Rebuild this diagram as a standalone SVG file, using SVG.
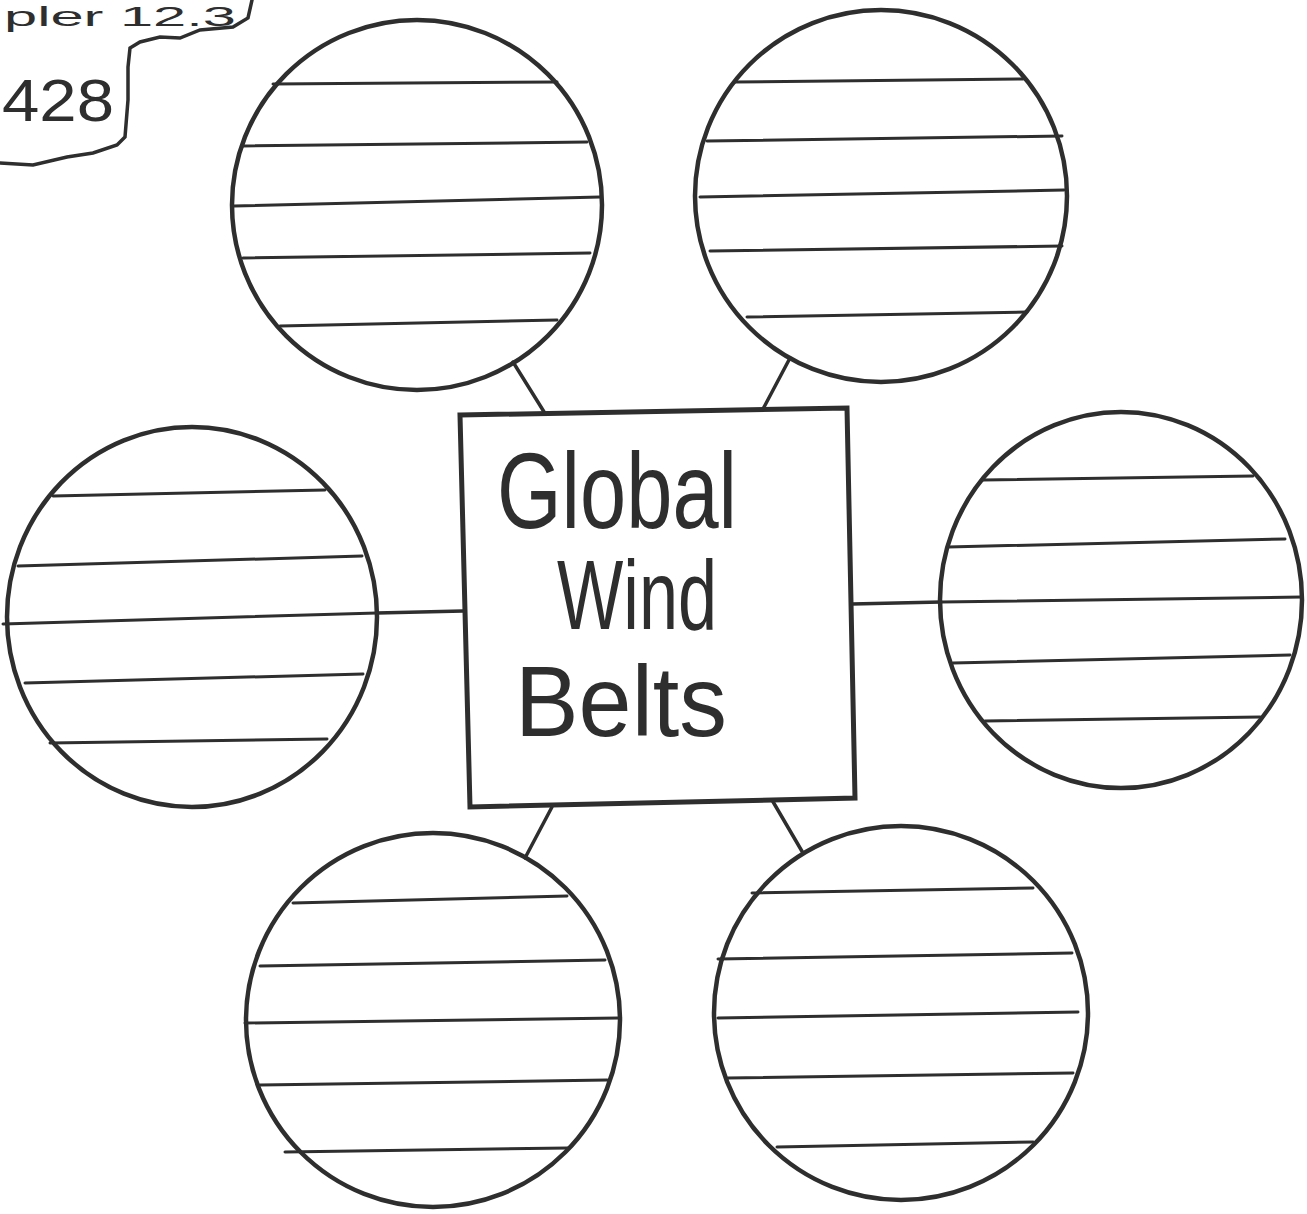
<svg xmlns="http://www.w3.org/2000/svg" width="1307" height="1214" viewBox="0 0 1307 1214">
<style>
.c{fill:none;stroke:#2e2e2e;stroke-width:4.5}
.l{fill:none;stroke:#2e2e2e;stroke-width:3;stroke-linecap:round}
.k{fill:none;stroke:#2e2e2e;stroke-width:3.5;stroke-linecap:round}
.b{fill:#fff;stroke:#2e2e2e;stroke-width:5;stroke-linejoin:miter}
.t{font-family:"Liberation Sans",Arial,sans-serif;fill:#2e2e2e}
</style>
<rect width="1307" height="1214" fill="#fff"/>
<g id="note">
<path class="k" d="M0,163 L33,165 L67,157 L93,153 L117,145 L125,137 L128,100 L128,67 L130,48 L140,42 L160,37 L180,38 L200,30 L233,27 L248,18 L252,0"/>
<text class="t" x="4" y="26" font-size="28" textLength="232" lengthAdjust="spacingAndGlyphs">pler 12.3</text>
<text class="t" x="2" y="121" font-size="60" textLength="112" lengthAdjust="spacingAndGlyphs">428</text>
</g>
<g id="connectors">
<line class="k" x1="513" y1="362" x2="546" y2="415"/>
<line class="k" x1="790" y1="358" x2="763" y2="409"/>
<line class="k" x1="377" y1="613" x2="463" y2="611"/>
<line class="k" x1="852" y1="604" x2="941" y2="602"/>
<line class="k" x1="552" y1="807" x2="525" y2="858"/>
<line class="k" x1="772" y1="800" x2="803" y2="853"/>
</g>
<g id="center">
<polygon class="b" points="460,415 847,408 855,798 470,807"/>
<text class="t" x="497" y="528" font-size="108" textLength="240" lengthAdjust="spacingAndGlyphs">Global</text>
<text class="t" x="557" y="629" font-size="98" textLength="160" lengthAdjust="spacingAndGlyphs">Wind</text>
<text class="t" x="515" y="736" font-size="100" textLength="212" lengthAdjust="spacingAndGlyphs">Belts</text>
</g>
<g id="circle-top-left">
<circle class="c" cx="417" cy="205" r="185"/>
<line class="l" x1="273" y1="84" x2="557" y2="82"/>
<line class="l" x1="242" y1="146" x2="587" y2="142"/>
<line class="l" x1="234" y1="206" x2="600" y2="197"/>
<line class="l" x1="243" y1="258" x2="590" y2="253"/>
<line class="l" x1="280" y1="326" x2="557" y2="320"/>
</g>
<g id="circle-top-right">
<circle class="c" cx="881" cy="196" r="186"/>
<line class="l" x1="735" y1="82" x2="1023" y2="79"/>
<line class="l" x1="707" y1="141" x2="1062" y2="136"/>
<line class="l" x1="700" y1="197" x2="1064" y2="190"/>
<line class="l" x1="710" y1="251" x2="1062" y2="246"/>
<line class="l" x1="747" y1="317" x2="1027" y2="312"/>
</g>
<g id="circle-left">
<ellipse class="c" cx="192" cy="617" rx="185" ry="190"/>
<line class="l" x1="53" y1="496" x2="325" y2="490"/>
<line class="l" x1="18" y1="566" x2="362" y2="556"/>
<line class="l" x1="3" y1="624" x2="377" y2="613"/>
<line class="l" x1="25" y1="683" x2="363" y2="674"/>
<line class="l" x1="50" y1="743" x2="327" y2="739"/>
</g>
<g id="circle-right">
<ellipse class="c" cx="1121" cy="600" rx="181" ry="188"/>
<line class="l" x1="983" y1="480" x2="1253" y2="476"/>
<line class="l" x1="948" y1="547" x2="1285" y2="539"/>
<line class="l" x1="941" y1="602" x2="1302" y2="597"/>
<line class="l" x1="953" y1="663" x2="1290" y2="655"/>
<line class="l" x1="985" y1="721" x2="1260" y2="717"/>
</g>
<g id="circle-bottom-left">
<circle class="c" cx="433" cy="1020" r="187"/>
<line class="l" x1="293" y1="903" x2="567" y2="896"/>
<line class="l" x1="260" y1="966" x2="605" y2="960"/>
<line class="l" x1="245" y1="1023" x2="619" y2="1018"/>
<line class="l" x1="260" y1="1085" x2="607" y2="1080"/>
<line class="l" x1="285" y1="1152" x2="568" y2="1148"/>
</g>
<g id="circle-bottom-right">
<circle class="c" cx="901" cy="1013" r="187"/>
<line class="l" x1="752" y1="893" x2="1033" y2="888"/>
<line class="l" x1="718" y1="959" x2="1072" y2="953"/>
<line class="l" x1="718" y1="1018" x2="1078" y2="1012"/>
<line class="l" x1="728" y1="1078" x2="1073" y2="1073"/>
<line class="l" x1="777" y1="1147" x2="1033" y2="1142"/>
</g>
</svg>
